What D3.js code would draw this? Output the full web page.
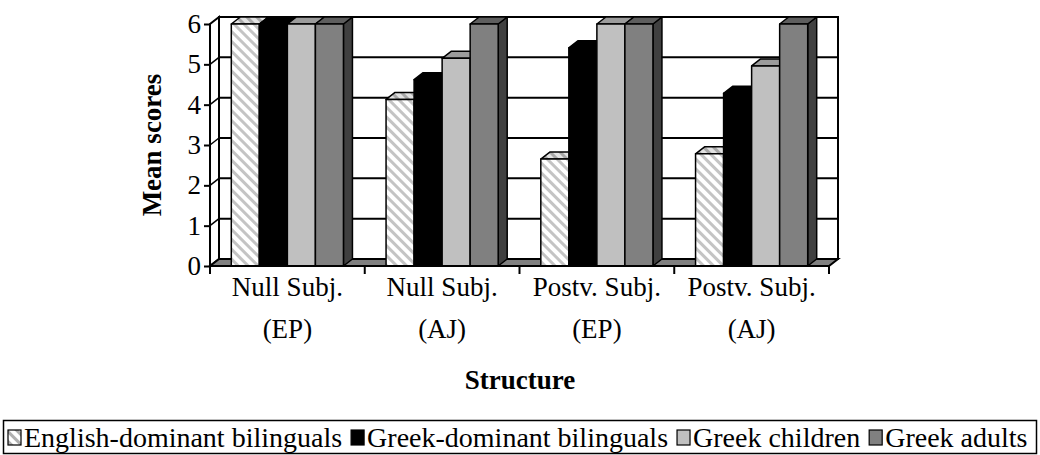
<!DOCTYPE html>
<html>
<head>
<meta charset="utf-8">
<script src="https://cdn.jsdelivr.net/npm/d3@7"></script>
<style>
  body { margin: 0; background: #fff; }
  svg { display: block; font-family: "Liberation Serif", "Times New Roman", serif; }
</style>
</head>
<body>
<svg id="chart" width="1040" height="455"></svg>
<script>
// categories (two text lines each) and series
const categories = ["Null Subj. (EP)", "Null Subj. (AJ)", "Postv. Subj. (EP)", "Postv. Subj. (AJ)"];
const categoryLines = [["Null Subj.", "(EP)"], ["Null Subj.", "(AJ)"], ["Postv. Subj.", "(EP)"], ["Postv. Subj.", "(AJ)"]];
const series = ["English-dominant bilinguals", "Greek-dominant bilinguals", "Greek children", "Greek adults"];

// mean scores per series, one per category
const englishDominant = [6, 4.13, 2.65, 2.78];
const greekDominant = [6, 4.62, 5.41, 4.28];
const greekChildren = [6, 5.15, 6, 4.96];
const greekAdults = [6, 6, 6, 6];
const values = [englishDominant, greekDominant, greekChildren, greekAdults];

const yTicks = [0, 1, 2, 3, 4, 5, 6];

const svg = d3.select("#chart");
const DX = 9, DY = -7; // 3d depth offset

const x = d3.scaleBand().domain(categories).range([210, 829]);
const xs = d3.scaleBand().domain(series).range([0, x.bandwidth()]).paddingOuter(0.76);
const y = d3.scaleLinear().domain([0, 6]).range([266, 24]);

// face colours: front, top, side
const faces = [
  { front: "url(#diag)", top: "url(#diagTop)", side: "#9a9a9a" },
  { front: "#000000", top: "#000000", side: "#000000" },
  { front: "#c0c0c0", top: "#9c9c9c", side: "#8a8a8a" },
  { front: "#808080", top: "#5e5e5e", side: "#404040" }
];

// patterns
const defs = svg.append("defs");
function stripes(id, bg, fg) {
  const p = defs.append("pattern").attr("id", id)
    .attr("patternUnits", "userSpaceOnUse")
    .attr("width", 7).attr("height", 7)
    .attr("patternTransform", "rotate(-45)");
  p.append("rect").attr("width", 7).attr("height", 7).attr("fill", bg);
  p.append("rect").attr("width", 3).attr("height", 7).attr("fill", fg);
}
stripes("diag", "#ffffff", "#c4c4c4");
stripes("diagTop", "#e2e2e2", "#a8a8a8");
stripes("diagLegend", "#ffffff", "#b0b0b0");

const x0 = x.range()[0], x1 = x.range()[1];
const yTop = y(6), yBot = y(0);
const line = d3.line();

// back wall
svg.append("rect")
  .attr("x", x0 + DX).attr("y", yTop + DY)
  .attr("width", x1 - x0).attr("height", yBot - yTop)
  .attr("fill", "#fff").attr("stroke", "#000").attr("stroke-width", 2);

svg.append("g").selectAll("line").data(yTicks.slice(1, -1)).join("line")
  .attr("x1", x0 + DX).attr("x2", x1 + DX)
  .attr("y1", d => y(d) + DY).attr("y2", d => y(d) + DY)
  .attr("stroke", "#000").attr("stroke-width", 2);

// side wall
svg.append("path")
  .attr("d", line([[x0, yBot], [x0 + DX, yBot + DY], [x0 + DX, yTop + DY], [x0, yTop]]) + "Z")
  .attr("fill", "#fff").attr("stroke", "#000").attr("stroke-width", 2);
svg.append("g").selectAll("path").data(yTicks.slice(1, -1)).join("path")
  .attr("d", d => line([[x0, y(d)], [x0 + DX, y(d) + DY]]))
  .attr("stroke", "#000").attr("stroke-width", 1.5);

// floor
svg.append("path")
  .attr("d", line([[x0, yBot], [x1, yBot], [x1 + DX, yBot + DY], [x0 + DX, yBot + DY]]) + "Z")
  .attr("fill", "#808080").attr("stroke", "#000").attr("stroke-width", 2);

// bars
const bars = svg.append("g");
categories.forEach((c, ci) => {
  series.forEach((s, si) => {
    const v = values[si][ci];
    const bx = x(c) + xs(s), bw = xs.bandwidth();
    const by = y(v);
    const f = faces[si];
    const g = bars.append("g").attr("stroke", "#000").attr("stroke-width", 1.5).attr("stroke-linejoin", "round");
    g.append("path")
      .attr("d", line([[bx + bw, yBot], [bx + bw + DX, yBot + DY], [bx + bw + DX, by + DY], [bx + bw, by]]) + "Z")
      .attr("fill", f.side);
    g.append("path")
      .attr("d", line([[bx, by], [bx + DX, by + DY], [bx + bw + DX, by + DY], [bx + bw, by]]) + "Z")
      .attr("fill", f.top);
    g.append("rect")
      .attr("x", bx).attr("y", by).attr("width", bw).attr("height", yBot - by)
      .attr("fill", f.front);
  });
});

// y axis
const yAxis = svg.append("g")
  .attr("transform", `translate(${x0},0)`)
  .call(d3.axisLeft(y).tickValues(yTicks).tickFormat(d3.format("d")).tickSize(6).tickPadding(3));
yAxis.select(".domain").attr("stroke-width", 2).attr("d", `M0,${yBot}V${yTop}`);
yAxis.selectAll(".tick line").attr("stroke-width", 2);
yAxis.selectAll("text").attr("font-size", 27).attr("font-family", "Liberation Serif").attr("fill", "#000");

// x axis: baseline and ticks at category boundaries
svg.append("path").attr("d", `M${x0},${yBot}H${x1}`).attr("stroke", "#000").attr("stroke-width", 2);
const bounds = categories.map(c => x(c)).concat([x1]);
svg.append("g").selectAll("line").data(bounds).join("line")
  .attr("x1", d => d).attr("x2", d => d)
  .attr("y1", yBot).attr("y2", yBot + 8)
  .attr("stroke", "#000").attr("stroke-width", 2);

const catLabels = svg.append("g").attr("font-size", 27).attr("text-anchor", "middle");
categories.forEach((c, ci) => {
  const t = catLabels.append("text").attr("x", x(c) + x.bandwidth() / 2).attr("y", 296);
  categoryLines[ci].forEach((l, li) => {
    t.append("tspan").attr("x", x(c) + x.bandwidth() / 2).attr("dy", li === 0 ? 0 : 42).text(l);
  });
});

// axis titles
svg.append("text")
  .attr("x", 520).attr("y", 389)
  .attr("text-anchor", "middle").attr("font-size", 27).attr("font-weight", "bold")
  .text("Structure");
svg.append("text")
  .attr("transform", `translate(161,145) rotate(-90)`)
  .attr("text-anchor", "middle").attr("font-size", 27).attr("font-weight", "bold")
  .text("Mean scores");

// legend
const legendFill = ["url(#diagLegend)", "#000000", "#c0c0c0", "#808080"];
svg.append("rect")
  .attr("x", 3.5).attr("y", 420.5).attr("width", 1033).attr("height", 33)
  .attr("fill", "#fff").attr("stroke", "#000").attr("stroke-width", 1.5);
const legend = svg.append("g").attr("font-size", 28);
let lx = 8;
series.forEach((s, si) => {
  legend.append("rect")
    .attr("x", lx).attr("y", 430).attr("width", 13).attr("height", 15)
    .attr("fill", legendFill[si]).attr("stroke", "#000").attr("stroke-width", 1.2);
  const t = legend.append("text").attr("x", lx + 16).attr("y", 447).text(s);
  lx += 16 + t.node().getComputedTextLength() + 9;
});
</script>
</body>
</html>
